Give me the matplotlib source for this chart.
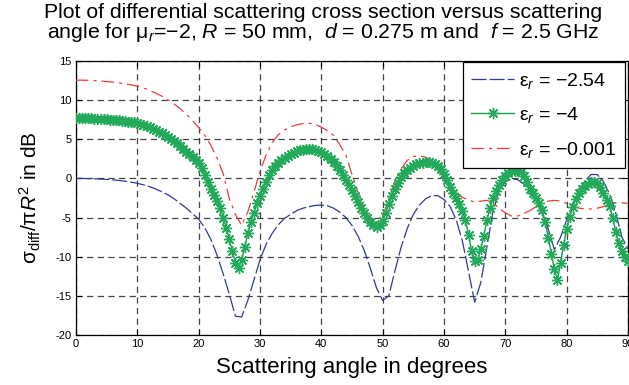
import numpy as np
import matplotlib
matplotlib.use("Agg")
import matplotlib.pyplot as plt

plt.rcParams['font.family'] = ['Liberation Sans', 'DejaVu Sans']
plt.rcParams['mathtext.fontset'] = 'custom'
plt.rcParams['mathtext.rm'] = 'Liberation Sans'
plt.rcParams['mathtext.it'] = 'Liberation Sans:italic'
plt.rcParams['mathtext.bf'] = 'Liberation Sans:bold'
plt.rcParams['axes.unicode_minus'] = False

# ---------------- data ----------------
# angles (degrees) for the 1-degree series
angle_deg = list(range(0, 91))

eps_m254 = [0.0, 0.0, -0.02, -0.05, -0.08, -0.12, -0.18, -0.26, -0.36, -0.48,
            -0.62, -0.82, -1.05, -1.35, -1.7, -2.1, -2.6, -3.2, -3.8, -4.5,
            -5.2, -6.3, -7.8, -9.8, -12.2, -14.8, -17.6, -17.7, -15.6, -13.0,
            -10.4, -8.4, -7.0, -5.9, -5.1, -4.6, -4.1, -3.8, -3.6, -3.45,
            -3.4, -3.5, -3.8, -4.3, -5.0, -6.0, -7.4, -9.2, -11.5, -14.0,
            -15.6, -15.0, -11.8, -8.8, -6.4, -4.6, -3.4, -2.6, -2.2, -2.2,
            -2.7, -3.6, -5.3, -8.0, -11.9, -15.8, -13.3, -8.7, -4.2, -1.5,
            -0.4, -0.05, -0.15, -0.7, -1.7, -2.9, -4.5, -6.5, -9.1, -7.5,
            -5.3, -3.3, -1.6, -0.3, 0.5, 0.5, -0.4, -2.0, -4.4, -7.5, -9.0]

eps_m0001 = [12.55, 12.55, 12.53, 12.5, 12.45, 12.38, 12.3, 12.2, 12.08, 11.95,
             11.8, 11.55, 11.25, 10.9, 10.5, 10.05, 9.5, 8.9, 8.2, 7.4,
             6.5, 5.5, 4.2, 2.6, 0.6, -2.6, -4.6, -6.0, -4.3, -1.8,
             0.9, 3.0, 4.6, 5.6, 6.2, 6.6, 6.85, 7.0, 7.05, 6.9,
             6.55, 6.1, 5.5, 4.3, 3.0, 0.5, -1.8, -3.8, -5.2, -5.7,
             -4.8, -2.6, -0.4, 1.2, 2.3, 2.8, 2.9, 2.7, 2.2, 1.2,
             0.1, -1.1, -1.9, -2.4, -2.8, -3.0, -2.9, -2.8, -3.1, -3.8,
             -4.4, -4.8, -4.8, -4.5, -4.1, -3.6, -3.2, -2.9, -2.8, -2.9,
             -3.2, -3.5, -3.8, -3.9, -3.9, -3.8, -3.6, -3.3, -3.1, -3.1, -3.2]

# eps = -4 sampled every 0.5 degree, 0 .. 90
eps_m4 = [7.70, 7.70, 7.69, 7.68, 7.67, 7.66, 7.64, 7.62, 7.60, 7.58,
          7.55, 7.52, 7.49, 7.45, 7.41, 7.37, 7.32, 7.27, 7.22, 7.16,
          7.10, 6.98, 6.85, 6.70, 6.55, 6.36, 6.15, 5.96, 5.75, 5.53,
          5.30, 5.06, 4.80, 4.51, 4.20, 3.82, 3.40, 3.06, 2.70, 2.36,
          2.00, 1.30, 0.50, -0.40, -1.30, -2.10, -2.90, -3.80, -5.00, -6.30,
          -7.80, -9.30, -10.80, -11.50, -10.40, -8.80, -7.00, -5.60, -4.40, -3.20,
          -2.20, -1.30, -0.40, 0.40, 1.10, 1.60, 2.00, 2.35, 2.65, 2.90,
          3.10, 3.30, 3.45, 3.58, 3.66, 3.72, 3.75, 3.74, 3.68, 3.56,
          3.40, 3.15, 2.85, 2.50, 2.10, 1.60, 1.05, 0.45, -0.20, -0.85,
          -1.50, -2.25, -3.00, -3.75, -4.45, -5.10, -5.55, -5.90, -6.15, -6.00,
          -5.40, -4.40, -3.30, -2.30, -1.40, -0.60, 0.15, 0.65, 1.05, 1.35,
          1.60, 1.78, 1.92, 2.02, 2.08, 2.08, 2.00, 1.82, 1.55, 1.15,
          0.60, -0.20, -1.10, -1.80, -2.55, -3.30, -4.20, -5.30, -7.20, -9.30,
          -10.50, -10.40, -9.00, -7.30, -5.30, -3.80, -2.50, -1.60, -0.90, -0.20,
          0.35, 0.70, 0.90, 1.00, 1.00, 0.85, 0.35, -0.50, -1.30, -1.90,
          -2.50, -3.20, -4.00, -5.60, -7.60, -9.60, -11.60, -13.00, -10.80, -8.50,
          -6.40, -4.90, -3.60, -2.60, -1.90, -1.35, -0.95, -0.65, -0.45, -0.42,
          -0.60, -1.10, -1.90, -2.70, -3.50, -5.00, -6.80, -8.20, -9.30, -10.10,
          -10.50]
angle_half_deg = np.linspace(0, 90, len(eps_m4))

labels = [r'$\mathrm{ε}_r$ = $-$2.54', r'$\mathrm{ε}_r$ = $-$4', r'$\mathrm{ε}_r$ = $-$0.001']
x_ticks = list(range(0, 91, 10))
y_ticks = list(range(-20, 16, 5))

# ---------------- figure ----------------
fig = plt.figure(figsize=(6.29, 3.85), dpi=100)
ax = fig.add_axes([76/629, 1-335/385, 552/629, 274/385])

blue = '#2e3a94'
green = '#10a050'
red = '#f03a3a'

ax.plot(angle_deg, eps_m254, color=blue, lw=0.9, dashes=(12, 2.5), label=labels[0], zorder=3)
ax.plot(angle_half_deg, eps_m4, color=green, lw=1.0, marker=(8, 2, 0), markersize=8,
        markeredgewidth=1.0, markeredgecolor='#22aa5a',
        label=labels[1], zorder=4)
ax.plot(angle_deg, eps_m0001, color=red, lw=0.9, dashes=(10, 4, 2.5, 4), label=labels[2], zorder=3)

ax.set_xlim(0, 90)
ax.set_ylim(-20, 15)
ax.set_xticks(x_ticks)
ax.set_yticks(y_ticks)
ax.tick_params(direction='in', length=4, width=0.8, labelsize=8, top=True, right=True, pad=3)
ax.grid(True, color='#222222', linestyle=(0, (5, 3.5)), linewidth=0.9, alpha=0.85)
for s in ax.spines.values():
    s.set_linewidth(0.9)

ax.set_xlabel('Scattering angle in degrees', fontsize=16, labelpad=6)
ax.set_ylabel(r'$\mathrm{σ}_{\mathrm{diff}}/\mathrm{π}R^2$ in dB', fontsize=15, labelpad=9)

leg = ax.legend(loc='upper right', bbox_to_anchor=(0.995, 0.997), borderaxespad=0,
                fontsize=14, handlelength=2.2, handletextpad=0.25, labelspacing=0.75,
                borderpad=0.45, frameon=True, fancybox=False, framealpha=1)
leg.get_frame().set_edgecolor('black')
leg.get_frame().set_linewidth(0.9)

fig.text(0.513, 0.993,
         'Plot of differential scattering cross section versus scattering\n'
         r'angle for $\mathrm{μ}_r$=$-$2, $R$ = 50 mm,  $d$ = 0.275 m and  $f$ = 2.5 GHz',
         ha='center', va='top', fontsize=15.3, linespacing=0.95)

fig.savefig('out.png', dpi=100)
